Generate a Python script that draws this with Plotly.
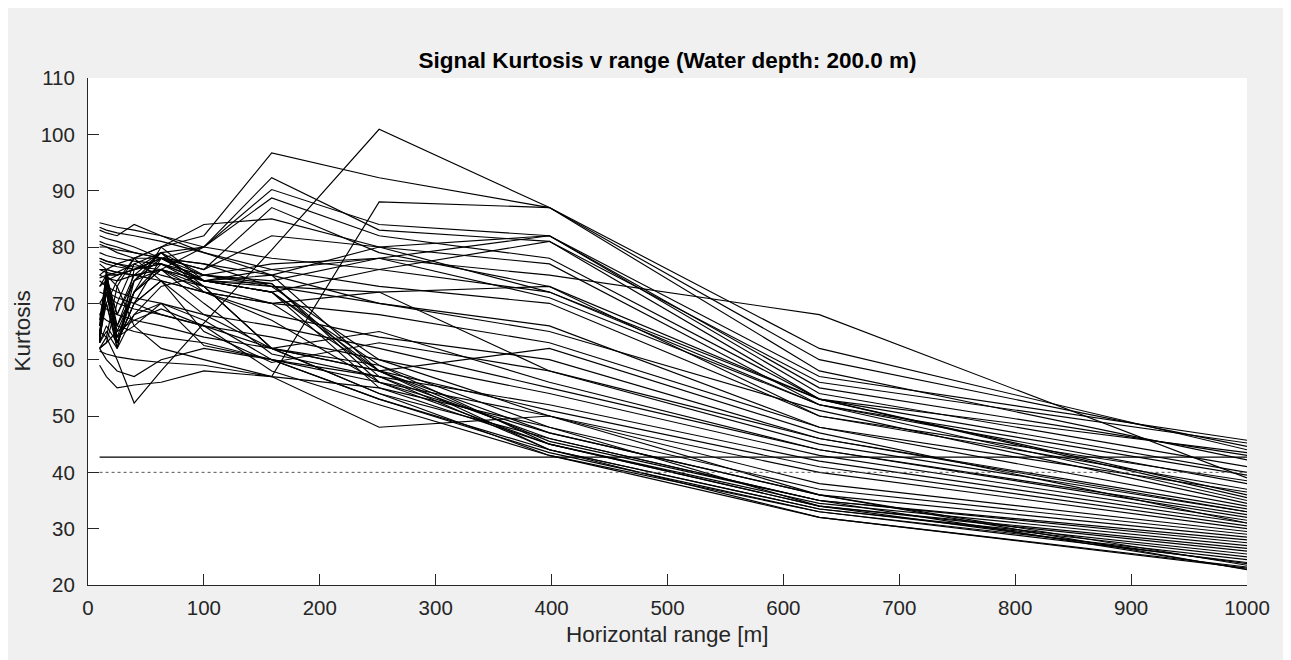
import plotly.graph_objects as go

# Horizontal range sample points [m]
ranges = [10, 15.85, 25.12, 39.81, 63.10, 100.0, 158.5, 251.2, 398.1, 631.0, 1000.0]

# Kurtosis curves (one list per run)
kurtosis_series = [
    # upper group
    [74.5, 75, 75.5, 77, 79, 80, 90.2, 84, 82, 57, 45.7],
    [73, 74, 75, 76, 78, 80, 92.3, 83, 81, 56, 45.2],
    [68, 70, 74, 78, 80, 82, 96.7, 92.3, 87, 60, 44.6],
    [62, 64, 60, 52.3, 58, 66.5, 79.5, 100.9, 87, 62, 44],
    [64, 75, 66, 72, 76, 74, 76, 78, 75, 68, 39],
    [63, 72, 64, 66, 62, 60, 57, 88, 87, 58, 42.2],
    [80, 80, 79.5, 79, 78, 76, 82, 80, 82, 55, 43],
    [79, 78.5, 78, 77.5, 77, 75, 74, 78, 82, 54, 41],
    [76, 76, 75.5, 75, 76, 74, 72, 76, 81, 53, 40],
    [75, 76, 77, 78, 80, 84, 85, 80, 77, 52, 39.5],
    [78, 77.5, 77, 76.5, 76, 80, 88.7, 82, 78, 53, 43.5],
    [82, 81.5, 81, 80, 78, 76, 87, 79, 73, 50, 38.5],
    # middle group
    [84.3, 84, 83.5, 83, 82, 80, 78, 76, 72, 52, 38],
    [83.5, 83, 82.5, 82, 81, 79, 76, 73, 70, 50, 37],
    [83, 82.5, 82, 84, 82, 79, 75, 70, 66, 48, 36.5],
    [81, 80.5, 80, 79, 78, 77, 73, 72, 73, 53, 36],
    [80.5, 80, 79, 78, 78, 77, 75, 80, 72, 53, 35.5],
    [66, 74, 64, 68, 73, 75, 77, 78, 71, 52, 35],
    [64, 76, 63, 70, 78, 74, 73, 70, 65, 51, 34.5],
    [63, 75, 65, 72, 76, 73, 70, 68, 63, 48, 34],
    [65, 70, 62, 74, 79, 72, 68, 64, 60, 46, 33.5],
    [77, 76, 75.5, 75, 74, 72, 70, 72, 58, 45, 33],
    [62, 63, 70, 77, 75, 73, 62, 65, 56, 44, 32.5],
    [74, 73, 72, 71, 70, 68, 66, 62, 55, 44, 32],
    [72, 71.5, 70, 69, 68, 66, 64, 60, 54, 43, 31.5],
    [67, 75, 73, 66, 70, 62.5, 60, 57, 52, 42, 31],
    [70, 69, 68, 67, 66, 64, 62, 58, 51, 41, 30.5],
    [68, 67, 66, 65, 64, 63, 60, 56, 50, 40, 30],
    [65, 64, 73, 78, 74, 65, 59.5, 63, 58, 46, 33],
    [63, 66, 63, 70, 74, 72, 70, 58, 62, 47, 31],
    # lower group
    [78, 77.5, 77, 76, 78, 75, 73, 60, 50, 38, 29.5],
    [77.5, 77, 76.5, 76, 77, 74, 72, 59, 48, 37, 29],
    [76, 75.5, 75, 76, 77, 74, 75, 58, 47, 36, 28.5],
    [75, 74.5, 74, 75, 79, 75, 73.5, 57, 46, 35, 28],
    [73, 75, 75, 76, 78, 74, 72, 58, 45.5, 35, 27.5],
    [64, 75, 68, 74, 78, 74, 73.5, 56, 45, 34.5, 27],
    [63, 74, 64, 72, 80, 74, 72, 55, 45, 34, 26.5],
    [63.5, 72, 62, 76, 79, 73, 62, 59, 45, 34, 26],
    [64, 70, 63, 72, 77, 73, 62, 58, 44, 33.5, 25.5],
    [65, 73, 66, 74, 76, 70, 61, 57, 44, 33.5, 25],
    [63, 65, 62, 68, 70, 67, 60, 53, 43.5, 33, 24.5],
    [62, 63, 65, 67, 69, 66, 58, 52, 43, 33, 24],
    [61.5, 61, 60.5, 60, 59.5, 59, 57, 55, 48, 34, 23.8],
    [59, 57, 55, 55.5, 56, 58, 57, 48, 50, 36, 23.5],
    [62, 60, 58, 57, 60, 62, 60, 53, 44, 32, 23.2],
    [64, 73, 63, 70, 74, 68, 62, 54, 43, 32, 23],
    [70, 72, 71, 70, 68, 66, 62, 54, 46, 35, 22.8],
    [66, 74, 68, 75, 76, 72, 67, 56, 47, 36, 22.7],
]

# Reference levels
ref_range = [10, 1000]
ref_solid = 42.7
ref_dotted = 40.0

x_ticks = [0, 100, 200, 300, 400, 500, 600, 700, 800, 900, 1000]
y_ticks = [20, 30, 40, 50, 60, 70, 80, 90, 100, 110]

FONT = "Liberation Sans, Arial, Helvetica, sans-serif"
AX = "#262626"

# page body adds an 8px offset, so the figure covers (8,8)-(1291,660)
W, H = 1283, 652
L, T, R, B = 80, 70, 44, 75
PH = H - T - B

fig = go.Figure()
for ys in kurtosis_series:
    fig.add_trace(go.Scatter(x=ranges, y=ys, mode="lines",
                             line=dict(color="black", width=1.15),
                             showlegend=False, hoverinfo="skip"))

fig.add_trace(go.Scatter(x=ref_range, y=[ref_solid, ref_solid], mode="lines",
                         line=dict(color="black", width=1.15),
                         showlegend=False, hoverinfo="skip"))
fig.add_trace(go.Scatter(x=ref_range, y=[ref_dotted, ref_dotted], mode="lines",
                         line=dict(color="#555555", width=1, dash="dot"),
                         showlegend=False, hoverinfo="skip"))

fig.update_layout(
    width=W, height=H,
    margin=dict(l=L, r=R, t=T, b=B, pad=0),
    paper_bgcolor="#f0f0f0",
    plot_bgcolor="white",
    font=dict(family=FONT, color=AX, size=20),
    title=dict(text="<b>Signal Kurtosis v range (Water depth: 200.0 m)</b>",
               x=0.5, xref="paper", xanchor="center",
               y=1 - (60 - 8) / H, yref="container", yanchor="middle",
               font=dict(family=FONT, size=22.5, color="black")),
    xaxis=dict(range=[0, 1000], tickvals=x_ticks, ticks="inside", ticklen=11,
               tickcolor=AX, showline=True, linecolor=AX, linewidth=1,
               showgrid=False, zeroline=False, mirror=False,
               ticklabelstandoff=4,
               tickfont=dict(size=20.5, color=AX)),
    yaxis=dict(range=[20, 110], tickvals=y_ticks, ticks="inside", ticklen=11,
               tickcolor=AX, showline=True, linecolor=AX, linewidth=1,
               showgrid=False, zeroline=False, mirror=False,
               ticklabelstandoff=8,
               tickfont=dict(size=20.5, color=AX)),
    annotations=[
        dict(text="Horizontal range [m]", xref="paper", yref="paper",
             x=0.5, y=(585 - 634) / PH, xanchor="center", yanchor="middle",
             showarrow=False, font=dict(size=22.5, color=AX, family=FONT)),
        dict(text="Kurtosis", xref="paper", yref="paper",
             x=(22 - 88) / (W - L - R), y=0.5, xanchor="center", yanchor="middle",
             textangle=-90, showarrow=False,
             font=dict(size=22.5, color=AX, family=FONT)),
    ],
)

fig.write_html("out.html")
